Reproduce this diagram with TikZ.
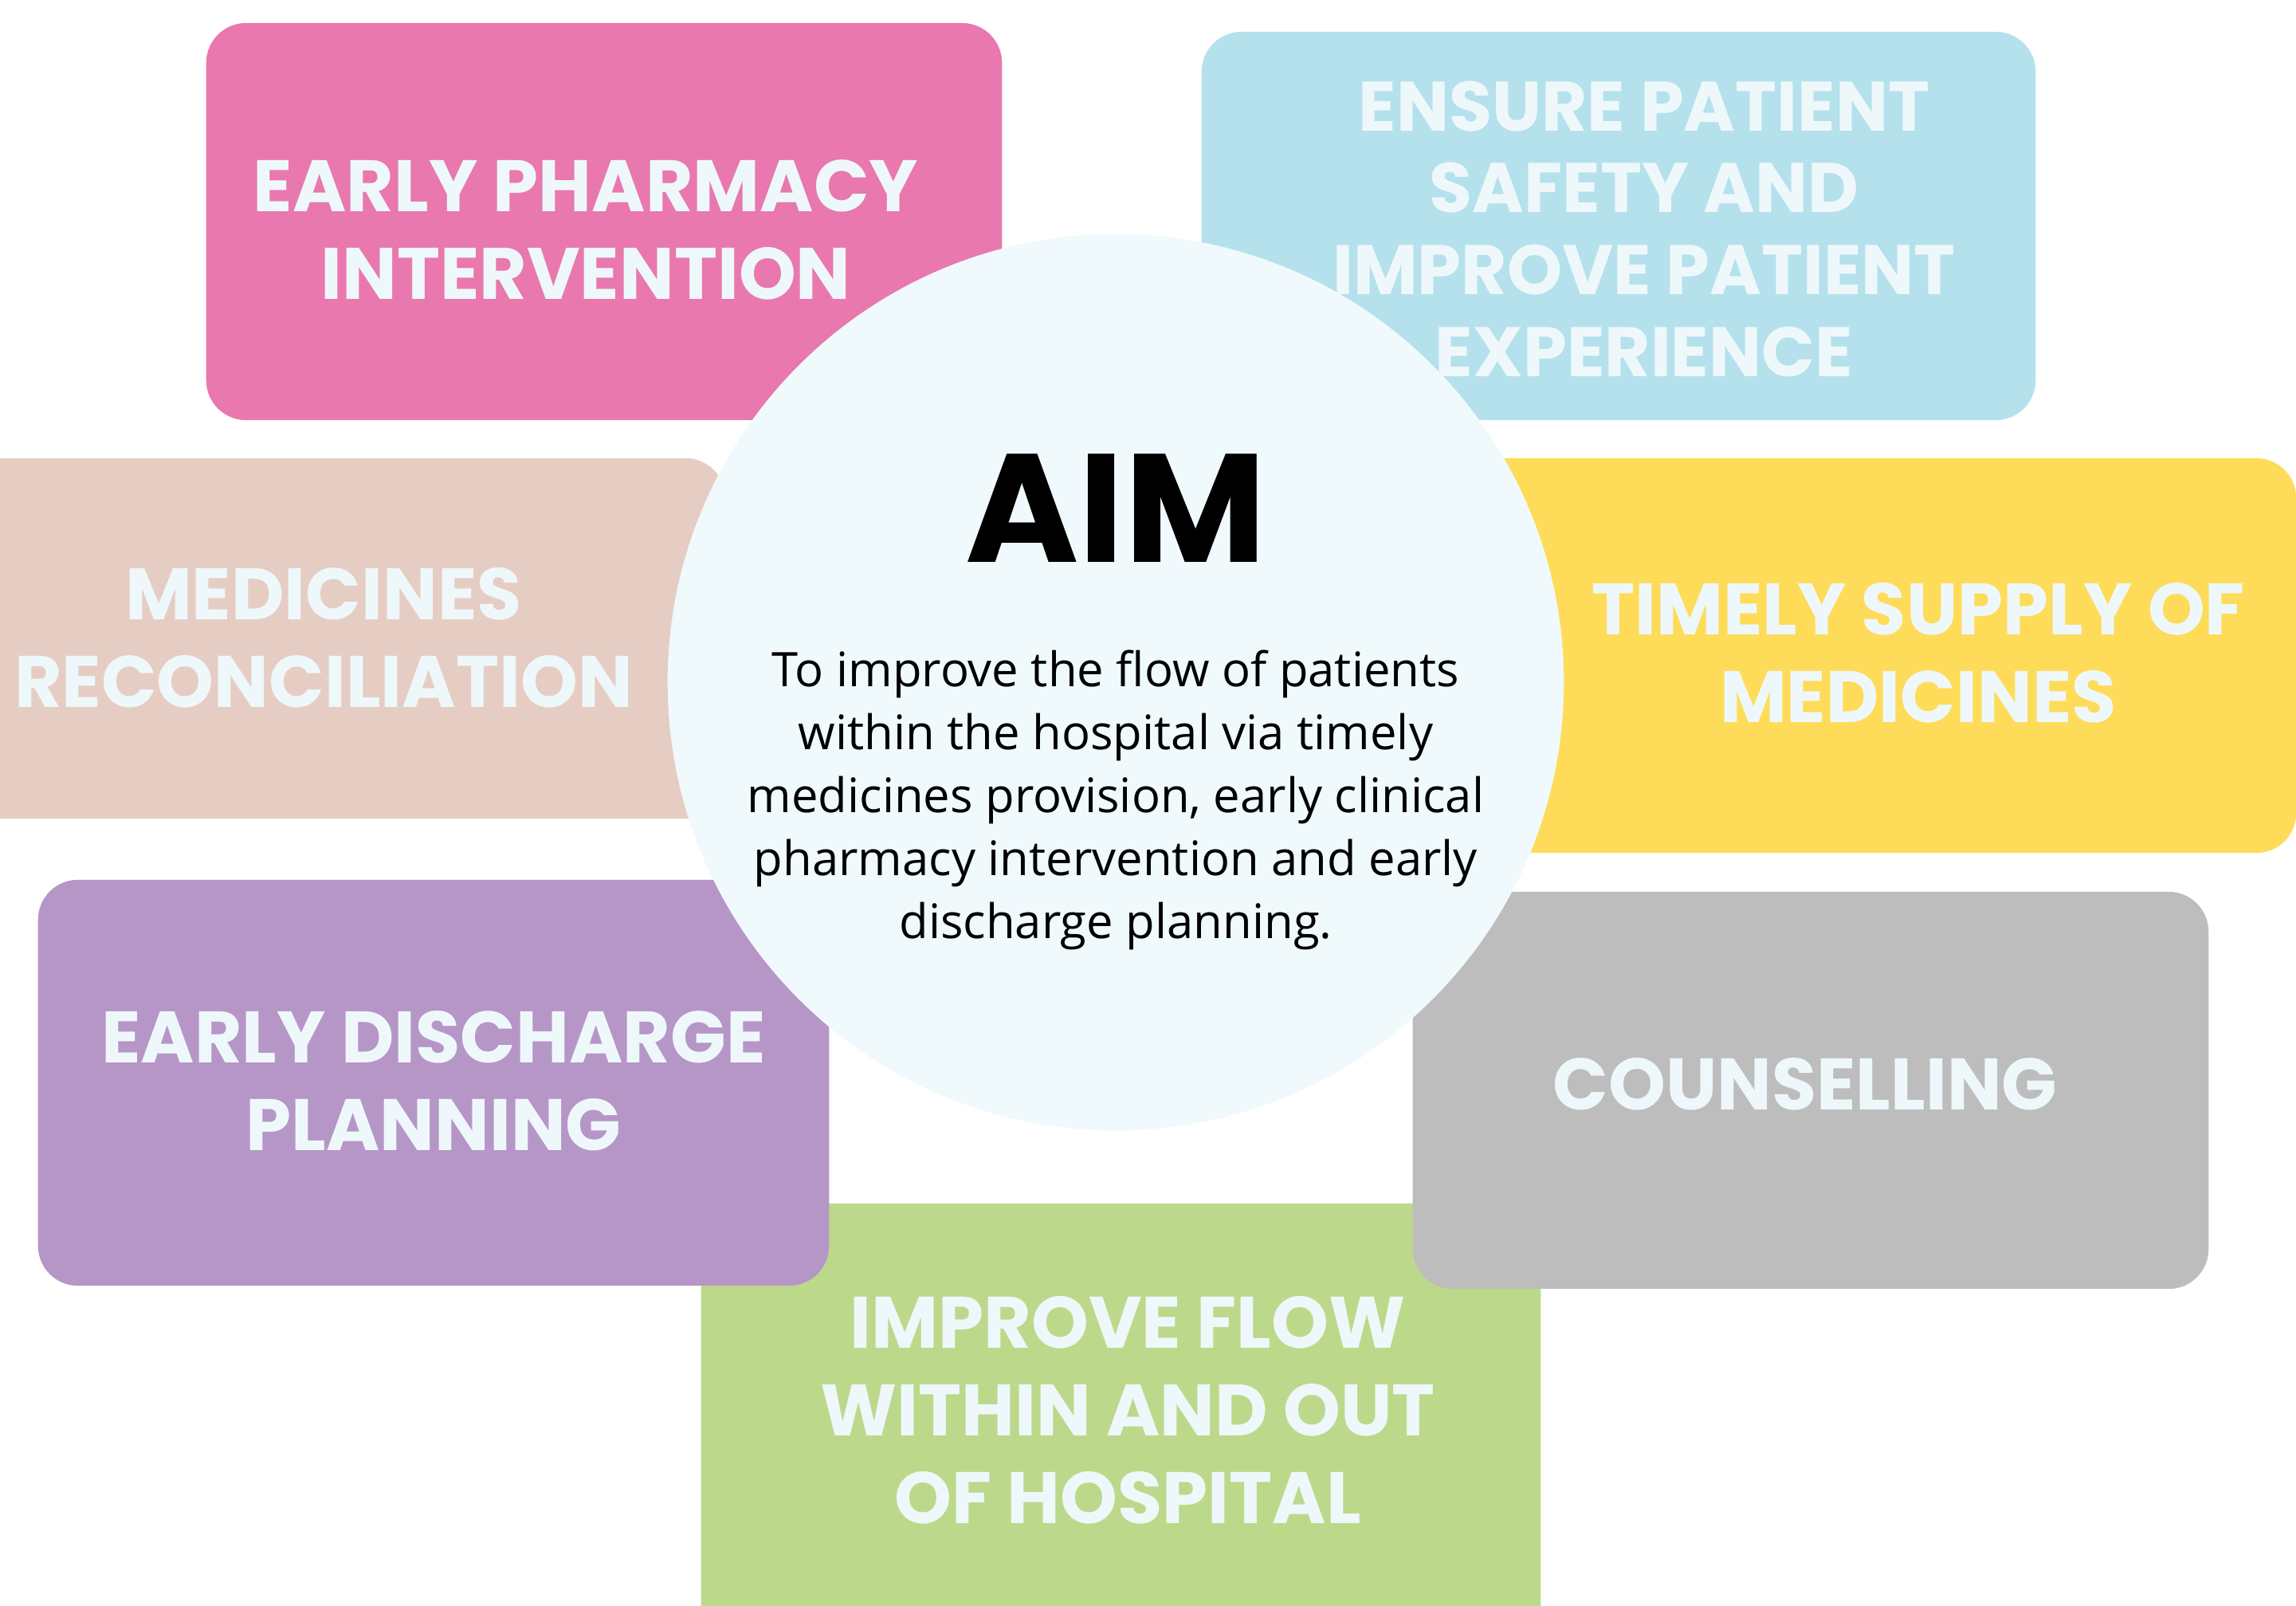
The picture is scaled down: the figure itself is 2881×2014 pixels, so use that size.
\documentclass[tikz,border=0pt]{standalone}
\usepackage{fontspec}
\setmainfont{Open Sans}
\newfontfamily\headfont{Poppins}[BoldFont={* Bold}]
\definecolor{cpink}{HTML}{E978AE}
\definecolor{cblue}{HTML}{B5E1EC}
\definecolor{cbeige}{HTML}{E6CDC3}
\definecolor{cyellow}{HTML}{FEDC59}
\definecolor{cpurple}{HTML}{B696C7}
\definecolor{cgrey}{HTML}{BDBDBD}
\definecolor{cgreen}{HTML}{BCD98B}
\definecolor{ccircle}{HTML}{F0F9FC}
\definecolor{clabel}{HTML}{EEF8FB}
\tikzset{
  card/.style={rectangle, rounded corners=0.5cm, inner sep=0pt, outer sep=0pt, draw=none},
  label/.style={text=clabel, align=center, inner sep=0pt,
    font=\headfont\bfseries\fontsize{26}{31.3}\selectfont},
}
\begin{document}
\begin{tikzpicture}[x=0.01cm, y=-0.01cm]
\useasboundingbox (0,0) rectangle (2881,2014);
\clip (0,0) rectangle (2881,2014);
% cards
\node[card, fill=cpink, minimum width=9.98cm, minimum height=4.98cm] (pink) at (758,278) {};
\node[card, fill=cblue, minimum width=10.46cm, minimum height=4.87cm] (blue) at (2031,283.5) {};
\node[card, fill=cbeige, minimum width=9.70cm, minimum height=4.52cm] (beige) at (425,801) {};
\node[card, fill=cyellow, minimum width=10.44cm, minimum height=4.95cm] (yellow) at (2359,822.5) {};
\node[card, fill=cgreen, minimum width=10.53cm, minimum height=5.70cm] (green) at (1406.5,1795) {};
\node[card, fill=cpurple, minimum width=9.92cm, minimum height=5.09cm] (purple) at (544,1358.5) {};
\node[card, fill=cgrey, minimum width=9.98cm, minimum height=4.98cm] (grey) at (2272,1368) {};
% central circle
\node[circle, fill=ccircle, minimum size=11.24cm, inner sep=0pt] (aim) at (1400,856) {};
% labels
\node[label] (tpink) at (735,288.5) {EARLY PHARMACY\\INTERVENTION};
\node[label, font=\headfont\bfseries\fontsize{25}{29.2}\selectfont] (tblue) at (2063,287) {ENSURE PATIENT\\SAFETY AND\\IMPROVE PATIENT\\EXPERIENCE};
\node[label] (tbeige) at (406,800) {MEDICINES\\RECONCILIATION};
\node[label] (tyellow) at (2407,819.5) {TIMELY SUPPLY OF\\MEDICINES};
\node[label] (tpurple) at (544,1356) {EARLY DISCHARGE\\PLANNING};
\node[label] (tgrey) at (2265,1360) {COUNSELLING};
\node[label] (tgreen) at (1415,1769.5) {IMPROVE FLOW\\WITHIN AND OUT\\OF HOSPITAL};
\node[font=\headfont\bfseries\fontsize{55}{60}\selectfont, inner sep=0pt] (aimtitle) at (1400,638) {AIM};
\node[align=center, inner sep=0pt, font=\fontsize{17}{22.5}\selectfont] (aimtext) at (1400,1004) {To improve the flow of patients\\within the hospital via timely\\medicines provision, early clinical\\pharmacy intervention and early\\discharge planning.};
\end{tikzpicture}
\end{document}
